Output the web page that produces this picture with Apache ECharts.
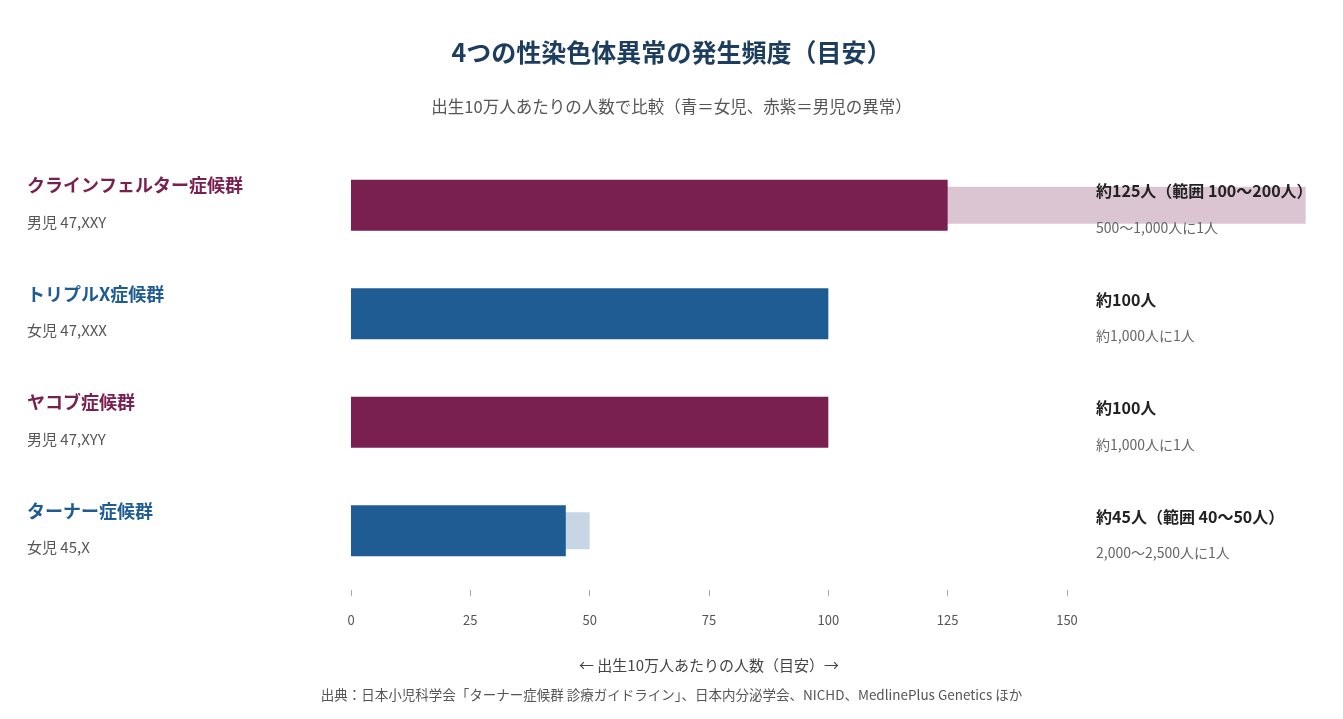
<!DOCTYPE html>
<html>
<head>
  <meta charset="utf-8">
  <title>4つの性染色体異常の発生頻度（目安）</title>
  <script src="https://cdn.jsdelivr.net/npm/echarts@6/dist/echarts.min.js"></script>
  <style>
    body { margin: 0; padding: 0; background: #fff; }
    #main { width: 1343px; height: 719px; }
  </style>
</head>
<body>
  <div id="main"></div>
  <script>
    // データ（出生10万人あたり）
    var names = ['クラインフェルター症候群', 'トリプルX症候群', 'ヤコブ症候群', 'ターナー症候群'];
    var karyotypes = ['男児 47,XXY', '女児 47,XXX', '男児 47,XYY', '女児 45,X'];
    var sexes = ['m', 'f', 'm', 'f'];
    var estimates = [125, 100, 100, 45];
    var rangeLow = [100, null, null, 40];
    var rangeHigh = [200, null, null, 50];
    var estimateLabels = ['約125人（範囲 100〜200人）', '約100人', '約100人', '約45人（範囲 40〜50人）'];
    var ratioLabels = ['500〜1,000人に1人', '約1,000人に1人', '約1,000人に1人', '2,000〜2,500人に1人'];
    var xMin = 0, xMax = 150, xStep = 25;

    var FONT = '"Noto Sans CJK JP", "Noto Sans", sans-serif';
    var colors = { m: '#7a2050', f: '#1f5c94' };
    var lightColors = { m: '#dcc5d2', f: '#c6d6e5' };

    var chart = echarts.init(document.getElementById('main'));

    var rangeData = [];
    for (var i = 0; i < names.length; i++) {
      if (rangeLow[i] != null) rangeData.push([rangeLow[i], rangeHigh[i], i]);
    }

    var option = {
      backgroundColor: '#fff',
      textStyle: { fontFamily: FONT },
      title: [{
        text: '4つの性染色体異常の発生頻度（目安）',
        left: 'center', top: 40, padding: 0,
        textStyle: { fontFamily: FONT, fontSize: 25, fontWeight: 'bold', color: '#1c3d5e' }
      }, {
        text: '出生10万人あたりの人数で比較（青＝女児、赤紫＝男児の異常）',
        left: 'center', top: 98, padding: 0,
        textStyle: { fontFamily: FONT, fontSize: 16.5, fontWeight: 'normal', color: '#555' }
      }, {
        text: '出典：日本小児科学会「ターナー症候群 診療ガイドライン」、日本内分泌学会、NICHD、MedlinePlus Genetics ほか',
        left: 'center', top: 688, padding: 0,
        textStyle: { fontFamily: FONT, fontSize: 13.5, fontWeight: 'normal', color: '#555' }
      }],
      grid: { left: 351, right: 276, top: 151, bottom: 134 },
      xAxis: {
        type: 'value',
        min: xMin, max: xMax, interval: xStep,
        offset: 5,
        axisLine: { show: false },
        axisTick: { show: true, length: 6, lineStyle: { color: '#aaa' } },
        splitLine: { show: false },
        axisLabel: { margin: 24, fontSize: 13, color: '#555', fontFamily: FONT },
        name: '← 出生10万人あたりの人数（目安）→',
        nameLocation: 'middle',
        nameGap: 68,
        nameTextStyle: { fontSize: 15, color: '#444', fontFamily: FONT }
      },
      yAxis: [{
        type: 'category',
        data: names,
        inverse: true,
        axisLine: { show: false },
        axisTick: { show: false },
        axisLabel: {
          interval: 0,
          align: 'left',
          margin: 324,
          formatter: function (v, idx) {
            var s = sexes[idx];
            return '{' + s + '|' + v + '}\n{sub|' + karyotypes[idx] + '}';
          },
          rich: {
            m: { fontFamily: FONT, fontSize: 18, fontWeight: 'bold', color: colors.m, lineHeight: 34 },
            f: { fontFamily: FONT, fontSize: 18, fontWeight: 'bold', color: colors.f, lineHeight: 34 },
            sub: { fontFamily: FONT, fontSize: 15, color: '#555', lineHeight: 40 }
          }
        }
      }, {
        type: 'category',
        data: names,
        inverse: true,
        position: 'right',
        z: 10,
        axisLine: { show: false },
        axisTick: { show: false },
        axisLabel: {
          interval: 0,
          align: 'left',
          margin: 29,
          formatter: function (v, idx) {
            return '{est|' + estimateLabels[idx] + '}\n{ratio|' + ratioLabels[idx] + '}';
          },
          rich: {
            est: { fontFamily: FONT, fontSize: 16, fontWeight: 'bold', color: '#222', lineHeight: 44 },
            ratio: { fontFamily: FONT, fontSize: 14, color: '#666', lineHeight: 28 }
          }
        }
      }],
      series: [{
        type: 'custom',
        name: '範囲',
        clip: false,
        z: 1,
        data: rangeData,
        renderItem: function (params, api) {
          var idx = api.value(2);
          var start = api.coord([api.value(0), idx]);
          var end = api.coord([api.value(1), idx]);
          var h = api.size([0, 1])[1] * 0.34;
          return {
            type: 'rect',
            shape: { x: start[0], y: start[1] - h / 2, width: end[0] - start[0], height: h },
            style: { fill: lightColors[sexes[idx]] }
          };
        },
        encode: { x: [0, 1], y: 2 }
      }, {
        type: 'bar',
        name: '推定値',
        z: 2,
        barWidth: '47%',
        data: estimates.map(function (v, i) {
          return { value: v, itemStyle: { color: colors[sexes[i]] } };
        })
      }]
    };

    chart.setOption(option);
  </script>
</body>
</html>
